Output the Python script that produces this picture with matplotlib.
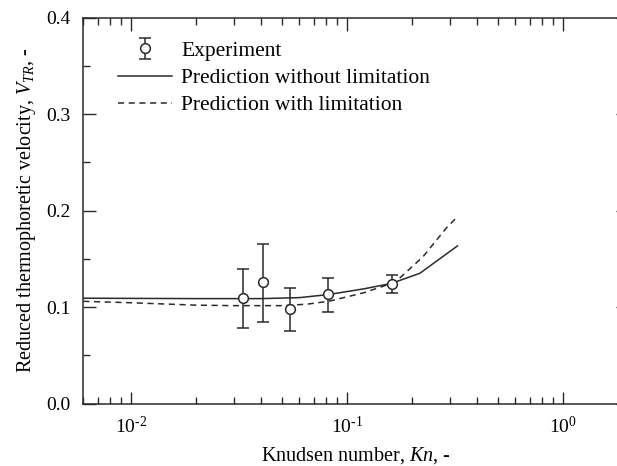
import numpy as np
import matplotlib
matplotlib.use('Agg')
import matplotlib.pyplot as plt

plt.rcParams['font.family'] = 'Liberation Serif'
plt.rcParams['mathtext.fontset'] = 'custom'
plt.rcParams['mathtext.rm'] = 'Liberation Serif'
plt.rcParams['mathtext.it'] = 'Liberation Serif:italic'

# experiment
kn_exp = [0.0328, 0.0408, 0.0541, 0.0817, 0.1606]
v_exp = [0.1098, 0.1258, 0.0984, 0.1140, 0.1244]
err_hi = [0.1396, 0.1658, 0.1202, 0.1306, 0.1334]
err_lo = [0.0784, 0.0847, 0.0756, 0.0953, 0.1147]

# prediction without limitation
kn_no = [0.006, 0.02, 0.04, 0.06, 0.082, 0.12, 0.16, 0.217, 0.324]
v_no = [0.1092, 0.1088, 0.1088, 0.1098, 0.1130, 0.1190, 0.1245, 0.1350, 0.1634]

# prediction with limitation
kn_lim = [0.006, 0.01, 0.02, 0.03, 0.05, 0.065, 0.082, 0.12, 0.16, 0.175, 0.224, 0.288, 0.324]
v_lim = [0.1060, 0.1045, 0.1020, 0.1015, 0.1015, 0.1030, 0.1060, 0.1150, 0.1245, 0.1300, 0.1520, 0.1820, 0.1938]

c = '#2a2a2a'
fig = plt.figure(figsize=(6.17, 4.66), dpi=100)
ax = fig.add_axes([0.135, 0.134, 0.883, 0.828])

yerr = [np.array(v_exp) - np.array(err_lo), np.array(err_hi) - np.array(v_exp)]
h_exp = ax.errorbar(kn_exp, v_exp, yerr=yerr, fmt='o', color=c, mfc='white', mec=c,
                    ms=7, mew=1.1, capsize=4.5, elinewidth=1.1, capthick=1.1, zorder=5)
h_no, = ax.plot(kn_no, v_no, '-', color=c, lw=1.1)
h_lim, = ax.plot(kn_lim, v_lim, '--', color=c, lw=1.1, dashes=(4, 3))

ax.set_xscale('log')
ax.set_xlim(0.006, 2)
ax.set_ylim(0, 0.4)
ax.set_yticks([0.0, 0.1, 0.2, 0.3, 0.4])
ax.set_yticklabels(['0.0', '0.1', '0.2', '0.3', '0.4'])
ax.set_yticks([0.05, 0.15, 0.25, 0.35], minor=True)
ax.xaxis.set_major_formatter(matplotlib.ticker.FuncFormatter(
    lambda v, p: r'$10^{\text{%d}}$' % int(round(np.log10(v)))))

ax.tick_params(which='both', direction='in', top=True, right=True, labelsize=14, color=c, pad=9)
ax.tick_params(which='major', length=9, width=1)
ax.tick_params(which='minor', length=5, width=1)
for s in ax.spines.values():
    s.set_linewidth(1.1)
    s.set_color(c)

ax.set_xlabel('Knudsen number, $Kn$, -', fontsize=14.5, labelpad=6)
ax.set_ylabel('Reduced thermophoretic velocity, $V_{TR}$, -', fontsize=14.5, labelpad=6)

ax.legend([h_exp, h_no, h_lim],
          ['Experiment', 'Prediction without limitation', 'Prediction with limitation'],
          loc='upper left', frameon=False, fontsize=15.5, handlelength=2.5, handletextpad=0.45,
          borderaxespad=0, borderpad=0, labelspacing=0.33,
          bbox_to_anchor=((118 - 83.3) / 545, 0.94))

fig.savefig('out.png', dpi=100)
